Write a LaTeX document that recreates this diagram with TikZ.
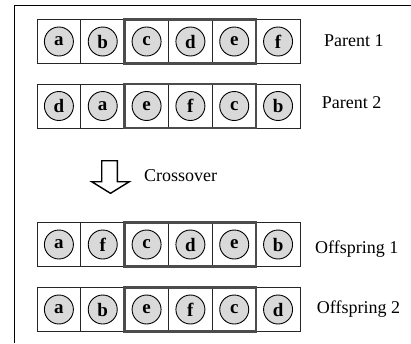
\documentclass[tikz,border=0pt]{standalone}
\usepackage{fontspec}
\setmainfont{Liberation Serif}
\begin{document}
\begin{tikzpicture}[x=1pt,y=-1pt,
  cell/.style={draw=black!85,line width=0.9pt,minimum width=43.83pt,minimum height=44pt,inner sep=0pt,outer sep=0pt},
  gene/.style={circle,draw=black,line width=0.9pt,fill=black!15,minimum size=29pt,inner sep=0pt,
    font=\fontsize{19}{19}\selectfont\bfseries},
  segment/.style={draw=black!70,line width=2.4pt},
  tag/.style={anchor=base west,inner sep=0pt,font=\fontsize{18}{18}\selectfont},
  frame/.style={draw=black,line width=1pt}]
\useasboundingbox (0,0) rectangle (411,343);
% open frame: top and left edges
\draw[frame] (411,5) -- (14.5,5) -- (14.5,343);
% chromosome rows
\foreach \row/\top/\genes in {p1/19.5/{a,b,c,d,e,f}, p2/84/{d,a,e,f,c,b},
                              o1/222.5/{a,f,c,d,e,b}, o2/287.5/{a,b,e,f,c,d}}{
  \foreach \g [count=\i] in \genes {
    \node[cell] (\row c\i) at ({37+43.83*(\i-0.5)},{\top+22}) {};
    \node[gene] (\row g\i) at (\row c\i) {\g};
  }
  \draw[segment] (\row c3.north west) rectangle (\row c5.south east);
}
% row labels
\node[tag] (l1) at (324,46.7) {Parent 1};
\node[tag] (l2) at (321.7,108.3) {Parent 2};
\node[tag] (l3) at (315,253.3) {Offspring 1};
\node[tag] (l4) at (316.7,313.3) {Offspring 2};
% crossover arrow
\draw[line width=1.4pt,fill=white,line join=miter]
  (101.7,160.7) -- (117.3,160.7) -- (117.3,181.7) -- (129.3,181.7) -- (110.5,193.3)
  -- (91.7,181.7) -- (101.7,181.7) -- cycle;
\node[tag] (cx) at (144,181) {Crossover};
\end{tikzpicture}
\end{document}
